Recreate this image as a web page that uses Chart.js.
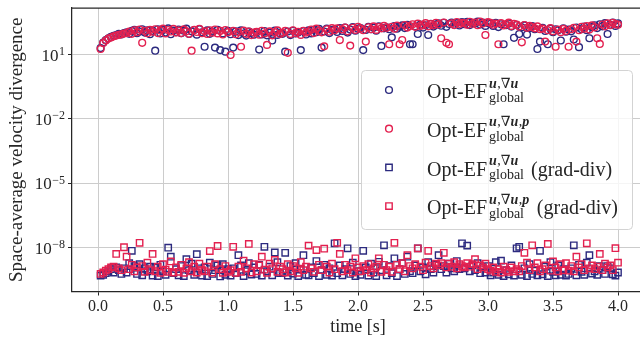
<!DOCTYPE html>
<html>
<head>
<meta charset="utf-8">
<script src="https://cdn.jsdelivr.net/npm/chart.js@4.4.0/dist/chart.umd.min.js"></script>
<style>
  html, body { margin: 0; padding: 0; background: #fff; overflow: hidden; }
  #wrap { position: relative; width: 640px; height: 344px; overflow: hidden; }
  #chart { position: absolute; left: 0; top: 0; }
</style>
</head>
<body>
<div id="wrap"><canvas id="chart" width="650" height="344"></canvas></div>
<script>
// time steps of the run (s)
const timeStep = 0.02;
const times = Array.from({ length: 200 }, (_, i) => +((i + 1) * timeStep).toFixed(2));

// space-average velocity divergence, circles (plain values)
const navyCircles = [
  20, 36, 47, 57, 66, 74, 80, 92, 86, 100,
  108, 92, 125, 140, 98, 118, 150, 105, 132, 88,
  122, 15, 150, 95, 140, 105, 165, 88, 130, 112,
  145, 98, 128, 160, 90, 120, 138, 84, 150, 108,
  23, 132, 92, 118, 21, 140, 16, 96, 13.5, 125,
  88, 21, 120, 80, 132, 95, 76, 118, 102, 84,
  110, 17, 86, 124, 78, 104, 45, 130, 82, 98,
  92, 13.5, 118, 80, 128, 96, 105, 16, 122, 86,
  132, 96, 142, 110, 155, 21, 118, 160, 100, 138,
  150, 112, 168, 125, 180, 105, 145, 190, 128, 160,
  172, 16, 140, 195, 150, 178, 128, 205, 25, 165,
  185, 150, 63, 210, 160, 198, 225, 170, 240, 30,
  30, 205, 90, 250, 180, 230, 81, 270, 200, 245,
  285, 220, 300, 195, 265, 310, 240, 290, 225, 320,
  260, 330, 235, 295, 275, 340, 250, 305, 215, 290,
  270, 215, 295, 190, 255, 30, 235, 280, 200, 60,
  240, 90, 185, 225, 85, 170, 210, 150, 18, 40,
  175, 125, 30, 160, 110, 150, 135, 45, 165, 115,
  145, 120, 50, 180, 22, 150, 200, 135, 57, 190,
  230, 170, 255, 205, 290, 90, 240, 310, 215, 280
];
const redCircles = [
  18, 34, 45, 55, 62, 70, 76, 82, 88, 94,
  100, 118, 92, 135, 110, 145, 35, 125, 98, 140,
  115, 150, 100, 132, 160, 95, 138, 118, 155, 105,
  130, 100, 148, 120, 92, 15, 140, 112, 158, 98,
  120, 90, 135, 104, 145, 96, 125, 86, 138, 110,
  9.5, 125, 88, 112, 23, 130, 92, 118, 80, 106,
  115, 84, 128, 95, 28, 120, 78, 108, 132, 90,
  102, 125, 12, 90, 135, 98, 115, 82, 128, 105,
  118, 145, 100, 160, 125, 108, 24, 150, 115, 170,
  135, 165, 47, 148, 180, 120, 26, 175, 140, 195,
  160, 135, 40, 185, 150, 205, 140, 190, 165, 215,
  175, 30, 195, 160, 220, 30, 47, 235, 180, 210,
  255, 195, 275, 215, 240, 290, 205, 260, 230, 300,
  250, 57, 310, 35, 30, 280, 235, 325, 265, 300,
  285, 240, 335, 270, 310, 230, 345, 280, 81, 320,
  300, 245, 275, 30, 290, 225, 260, 305, 215, 270,
  250, 200, 37, 235, 175, 215, 190, 165, 205, 150,
  160, 40, 135, 170, 120, 23, 145, 110, 155, 125,
  23, 150, 175, 40, 135, 195, 160, 210, 145, 225,
  185, 57, 31, 250, 205, 280, 230, 300, 260, 245
];

// squares (grad-div), in units of 1e-10
const squareUnit = 1e-10;
const navySquares = [
  5, 5.5, 6.5, 8, 10, 7, 12, 9, 6, 11,
  7, 19, 72, 14, 6, 17, 5.2, 11, 8, 13,
  5, 12, 4.8, 16, 8, 5.5, 100, 38, 6.5, 10,
  5.2, 14, 4.8, 29, 9, 18, 5.5, 50, 11, 5,
  12, 4.8, 20, 6, 9, 15, 4.6, 17, 5.5, 10,
  5, 11, 6.5, 45, 15, 4.8, 8, 19, 5.6, 12,
  6, 16, 5, 110, 8, 13, 5.2, 60, 21, 6.5,
  7, 58, 5, 14, 6.2, 19, 4.8, 10, 45, 5.5,
  5.2, 12, 6.5, 24, 4.8, 9, 16, 5.5, 11, 5,
  160, 6.5, 15, 5.2, 10, 94, 6, 20, 4.8, 8,
  5.5, 72, 12, 5, 18, 7, 4.8, 22, 9, 130,
  5.2, 14, 6.5, 32, 4.8, 10, 19, 6, 38, 8,
  6.5, 15, 94, 8, 12, 5.8, 21, 10, 7, 16,
  45, 10, 14, 7, 18, 11, 8, 24, 10, 160,
  11, 125, 8, 15, 9, 19, 6.5, 12, 7, 14,
  5.2, 7, 21, 5.5, 25, 4.8, 9, 5.8, 15, 5,
  94, 110, 5.5, 11, 4.8, 17, 6, 8.5, 5.2, 72,
  5.8, 13, 4.8, 21, 7.5, 5.2, 15, 5.5, 10, 5,
  6, 11, 130, 5.2, 16, 7.5, 5.5, 20, 45, 6.2,
  8, 5.5, 14, 9, 6, 14, 11, 5.8, 5, 7
];
const redSquares = [
  6, 7, 8.5, 10, 12, 13, 51, 11, 9, 105,
  38, 10, 16, 8, 12, 170, 14, 7.5, 20, 9,
  51, 8, 13, 6.8, 17, 9.5, 7.5, 23, 7, 12,
  7.5, 16, 6.8, 11, 21, 8, 13, 7, 18, 9,
  8, 13, 70, 7, 17, 120, 10, 6.8, 14, 7.5,
  9, 110, 6.8, 13, 7.5, 25, 11, 150, 7, 17,
  8, 15, 38, 9.5, 6.8, 18, 11, 27, 7.5, 13,
  10, 7, 17, 8, 14, 11, 6.8, 21, 9, 13,
  125, 11, 7.5, 78, 16, 9, 90, 13, 7, 18,
  10, 170, 51, 8, 16, 9, 13, 7, 32, 12,
  8, 14, 9, 17, 7, 11, 13, 32, 7.5, 16,
  9, 13, 7.5, 170, 16, 10, 19, 8, 45, 14,
  11, 17, 94, 13, 9, 20, 72, 14, 11, 18,
  15, 19, 58, 12, 18, 13, 21, 11, 17, 14,
  12, 19, 13, 17, 29, 10, 15, 12, 18, 10,
  8.5, 12, 7.5, 10, 7, 13, 9, 7.5, 12, 8,
  10, 8, 14, 58, 20, 9, 130, 12, 19, 8,
  10, 15, 150, 8.5, 23, 12, 8, 17, 9, 19,
  8.5, 14, 8, 38, 12, 17, 9, 160, 11, 15,
  10, 13, 51, 9, 18, 12, 15, 9, 95, 20
];

const xTicks = [0, 0.5, 1, 1.5, 2, 2.5, 3, 3.5, 4];
const yTickExps = [1, -2, -5, -8];

const legendEntries = [
  { sup: ['u', ',∇', 'u'], extra: '', color: 'navy', style: 'circle' },
  { sup: ['u', ',∇', 'u', ',', 'p'], extra: '', color: 'red', style: 'circle' },
  { sup: ['u', ',∇', 'u'], extra: '(grad-div)', color: 'navy', style: 'rect' },
  { sup: ['u', ',∇', 'u', ',', 'p'], extra: '(grad-div)', color: 'red', style: 'rect' },
];

const colors = { navy: '#2c2a7f', red: '#e3204f' };
const ink = '#262626';
const serif = '"Liberation Serif", "DejaVu Serif", serif';

const toPoints = (vals, scale = 1) => vals.map((v, i) => ({ x: times[i], y: v * scale }));

const drawMarker = (ctx, style, x, y, color) => {
  ctx.save();
  ctx.strokeStyle = color;
  ctx.lineWidth = 1.4;
  ctx.beginPath();
  if (style === 'circle') {
    ctx.arc(x, y, 3.4, 0, Math.PI * 2);
  } else {
    ctx.rect(x - 3.2, y - 3.2, 6.4, 6.4);
  }
  ctx.stroke();
  ctx.restore();
};

const decorations = {
  id: 'decorations',
  afterDraw(chart) {
    const { ctx, chartArea, scales } = chart;
    ctx.save();
    // top spine
    ctx.strokeStyle = ink;
    ctx.lineWidth = 1.25;
    ctx.beginPath();
    ctx.moveTo(chartArea.left, chartArea.top);
    ctx.lineTo(chartArea.right, chartArea.top);
    ctx.stroke();

    // y tick labels 10^n
    ctx.fillStyle = ink;
    ctx.textBaseline = 'alphabetic';
    yTickExps.forEach((e) => {
      const y = scales.y.getPixelForValue(Math.pow(10, e));
      const expText = e < 0 ? '\u2212' + Math.abs(e) : String(e);
      ctx.font = '12px ' + serif;
      const ew = ctx.measureText(expText).width;
      const right = 65;
      ctx.textAlign = 'left';
      ctx.fillText(expText, right - ew, y + 0.5);
      ctx.font = '17px ' + serif;
      ctx.textAlign = 'right';
      ctx.fillText('10', right - ew - 0.5, y + 6);
    });

    // legend
    const bx = 361.5, by = 70.5, bw = 271, bh = 159;
    ctx.fillStyle = 'rgba(255,255,255,0.8)';
    ctx.strokeStyle = '#d3d3d3';
    ctx.lineWidth = 1;
    ctx.beginPath();
    ctx.roundRect(bx, by, bw, bh, 4);
    ctx.fill();
    ctx.stroke();

    legendEntries.forEach((entry, i) => {
      const cy = 90 + i * 38.7;
      drawMarker(ctx, entry.style, 389, cy, colors[entry.color]);
      ctx.fillStyle = ink;
      ctx.textAlign = 'left';
      ctx.font = '20px ' + serif;
      const base = 'Opt-EF';
      ctx.fillText(base, 427, cy + 8.3);
      const sx = 427 + ctx.measureText(base).width + 2;
      let px = sx;
      entry.sup.forEach((part) => {
        const isVar = part === 'u' || part === 'p';
        ctx.font = (isVar ? 'bold italic ' : '') + '14px ' + serif;
        ctx.fillText(part, px, cy - 2.5);
        px += ctx.measureText(part).width + (isVar ? 0.5 : 0);
      });
      ctx.font = '14px ' + serif;
      ctx.fillText('global', sx, cy + 12);
      const subEnd = sx + ctx.measureText('global').width;
      if (entry.extra) {
        ctx.font = '20px ' + serif;
        ctx.fillText(entry.extra, Math.max(px, subEnd) + 7, cy + 8.3);
      }
    });
    ctx.restore();
  },
};

const scatterSet = (label, data, color, style, order) => ({
  label,
  data,
  showLine: false,
  pointStyle: style,
  pointRadius: style === 'circle' ? 3.4 : 4.5,
  pointBorderWidth: 1.4,
  pointBorderColor: color,
  pointBackgroundColor: 'rgba(0,0,0,0)',
  borderColor: color,
  backgroundColor: 'rgba(0,0,0,0)',
  order,
});

new Chart(document.getElementById('chart'), {
  type: 'scatter',
  data: {
    datasets: [
      scatterSet('navy circles', toPoints(navyCircles), colors.navy, 'circle', 2),
      scatterSet('red circles', toPoints(redCircles), colors.red, 'circle', 1),
      scatterSet('navy squares', toPoints(navySquares, squareUnit), colors.navy, 'rect', 2),
      scatterSet('red squares', toPoints(redSquares, squareUnit), colors.red, 'rect', 1),
    ],
  },
  options: {
    responsive: false,
    devicePixelRatio: 1,
    animation: false,
    events: [],
    layout: { padding: { top: 8, right: 6, left: 0, bottom: 0 } },
    plugins: { legend: { display: false }, tooltip: { enabled: false } },
    scales: {
      x: {
        type: 'linear',
        min: -0.2,
        max: 4.2,
        bounds: 'data',
        afterBuildTicks: (scale) => { scale.ticks = xTicks.map((v) => ({ value: v })); },
        afterFit: (scale) => { scale.height = 52.5; },
        grid: { color: '#cccccc', lineWidth: 1, tickLength: 4, tickColor: ink, drawTicks: true },
        border: { display: true, color: ink, width: 1.25 },
        ticks: {
          padding: 2,
          color: ink,
          font: { family: serif, size: 16 },
          maxRotation: 0,
          callback: (v) => Number(v).toFixed(1),
        },
        title: {
          display: true,
          text: 'time [s]',
          color: ink,
          font: { family: serif, size: 18 },
          padding: { top: 0, bottom: 6 },
        },
      },
      y: {
        type: 'logarithmic',
        min: 9.12e-11,
        max: 1466,
        bounds: 'data',
        afterBuildTicks: (scale) => { scale.ticks = yTickExps.map((e) => ({ value: Math.pow(10, e) })); },
        afterFit: (scale) => { scale.width = 72; },
        grid: { color: '#cccccc', lineWidth: 1, tickLength: 4, tickColor: ink, drawTicks: true },
        border: { display: true, color: ink, width: 1.25 },
        ticks: { display: false },
        title: {
          display: true,
          text: 'Space-average velocity divergence',
          color: ink,
          font: { family: serif, size: 19 },
          padding: { top: 6, bottom: 0 },
        },
      },
    },
  },
  plugins: [decorations],
});
</script>
</body>
</html>
